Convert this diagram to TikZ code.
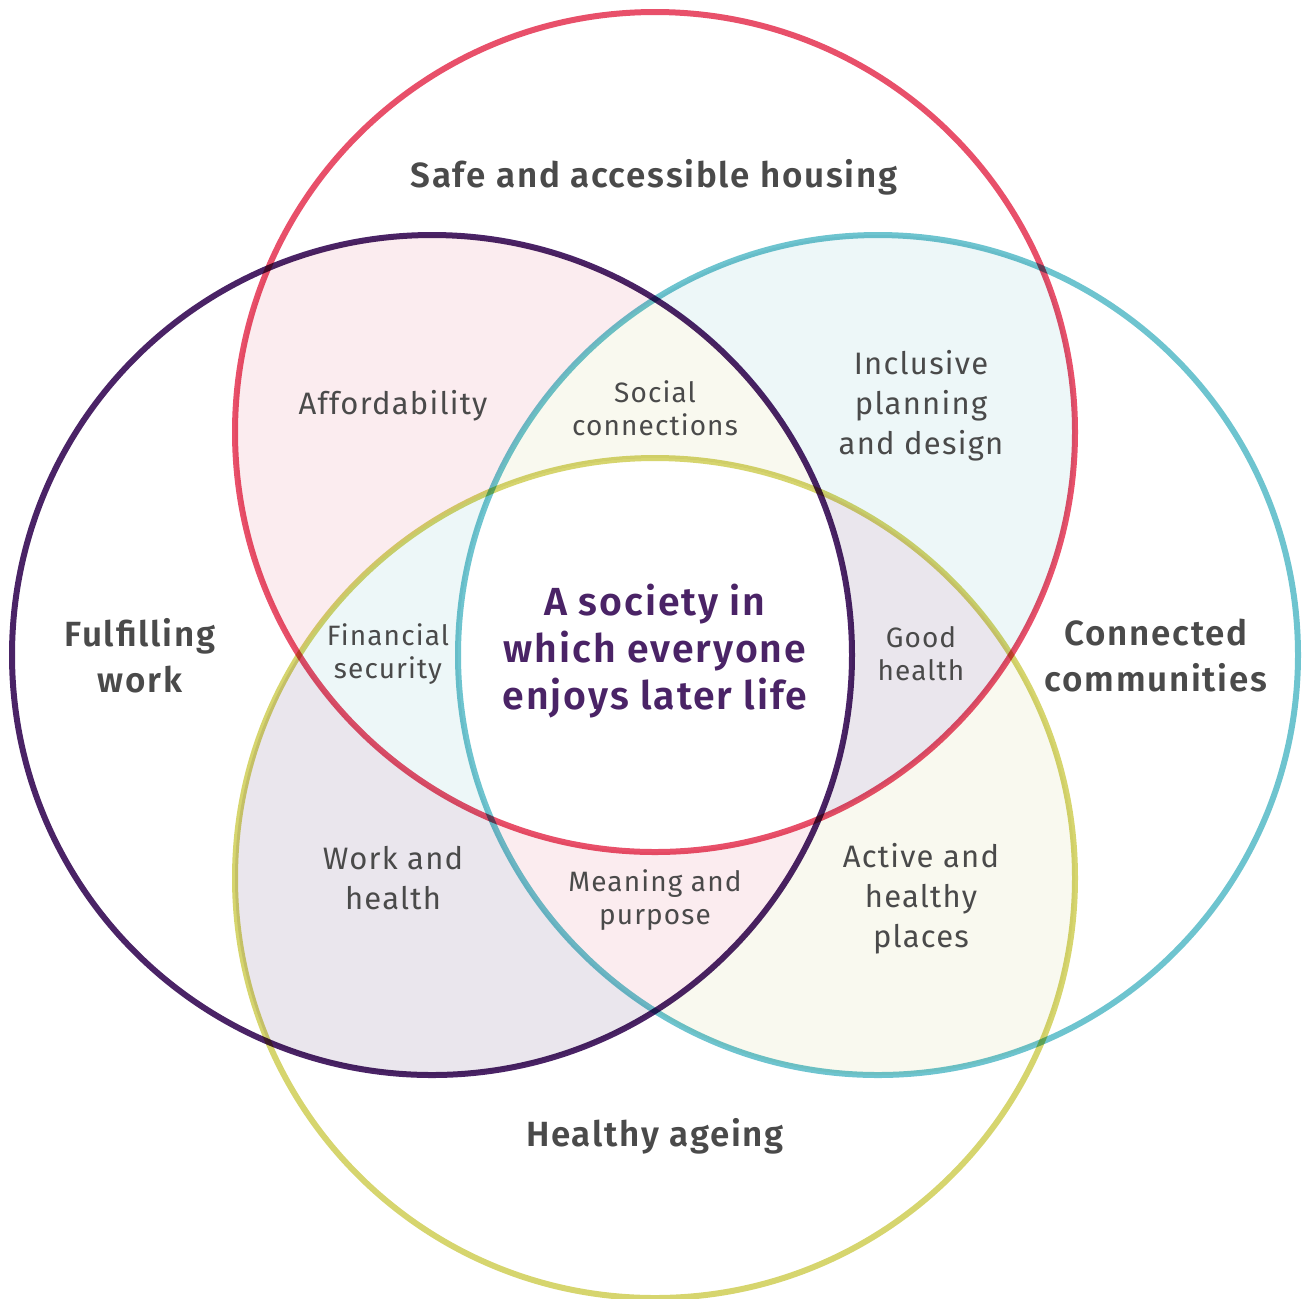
\documentclass[tikz,border=0pt]{standalone}
\usepackage{fontspec}
\setmainfont{Fira Sans}[LetterSpace=4, BoldFont={Fira Sans SemiBold}, BoldFeatures={LetterSpace=5}]
\definecolor{cred}{HTML}{E8506A}
\definecolor{cpur}{HTML}{4A2366}
\definecolor{ccya}{HTML}{6EC4CF}
\definecolor{cyel}{HTML}{D6D56E}
\definecolor{fpink}{HTML}{FBECEF}
\definecolor{fcya}{HTML}{EDF7F8}
\definecolor{fyel}{HTML}{F9F9EF}
\definecolor{fpur}{HTML}{EAE6ED}
\definecolor{tgray}{HTML}{4A4A4A}
\definecolor{tpur}{HTML}{4A2366}
\begin{document}
\begin{tikzpicture}[x=0.5pt,y=-0.5pt,
  ring/.style={line width=3pt},
  big/.style={text=tgray,align=center,font=\fontsize{17.5pt}{23pt}\selectfont\bfseries},
  mid/.style={text=tgray,align=center,font=\fontsize{15.5pt}{20pt}\selectfont},
  small/.style={text=tgray,align=center,font=\fontsize{14pt}{16.5pt}\selectfont},
  core/.style={text=tpur,align=center,font=\fontsize{19.6pt}{23.7pt}\selectfont\bfseries}]
\useasboundingbox (0,0) rectangle (1306,1298);
\def\R{420}
\def\cR{(655,432) circle[radius=\R]}
\def\cP{(432,655) circle[radius=\R]}
\def\cC{(878,655) circle[radius=\R]}
\def\cY{(655,878) circle[radius=\R]}
\def\all{(0,0) rectangle (1306,1298)}
% two-circle regions
\begin{scope}\clip \cR; \clip \cP; \fill[fpink] \all; \end{scope}
\begin{scope}\clip \cR; \clip \cC; \fill[fcya] \all; \end{scope}
\begin{scope}\clip \cP; \clip \cY; \fill[fpur] \all; \end{scope}
\begin{scope}\clip \cC; \clip \cY; \fill[fyel] \all; \end{scope}
% three-circle regions
\begin{scope}\clip \cR; \clip \cP; \clip \cC; \fill[fyel] \all; \end{scope}
\begin{scope}\clip \cR; \clip \cP; \clip \cY; \fill[fcya] \all; \end{scope}
\begin{scope}\clip \cR; \clip \cC; \clip \cY; \fill[fpur] \all; \end{scope}
\begin{scope}\clip \cP; \clip \cC; \clip \cY; \fill[fpink] \all; \end{scope}
% centre
\begin{scope}\clip \cR; \clip \cP; \clip \cC; \clip \cY; \fill[white] \all; \end{scope}
% rings
\begin{scope}[blend mode=multiply]
\draw[ring,cyel] \cY;
\draw[ring,ccya] \cC;
\draw[ring,cred] \cR;
\draw[ring,cpur] \cP;
\end{scope}
% labels
\node[big] (housing) at (654,177) {Safe and accessible housing};
\node[big] (work) at (140,656) {Fulfilling\\work};
\node[big] (communities) at (1156,656) {Connected\\communities};
\node[big] (ageing) at (655,1136) {Healthy ageing};
\node[mid] (afford) at (393,406) {Affordability};
\node[small] (social) at (655,408) {Social\\connections};
\node[mid] (inclusive) at (921,406) {Inclusive\\planning\\and design};
\node[small] (financial) at (388,654) {Financial\\security};
\node[small] (goodhealth) at (921,654) {Good\\health};
\node[mid] (workhealth) at (393,878) {Work and\\health};
\node[small] (meaning) at (655,900) {Meaning and\\purpose};
\node[mid] (active) at (921,899) {Active and\\healthy\\places};
\node[core] (society) at (655,651) {A society in\\which everyone\\enjoys later life};
\end{tikzpicture}
\end{document}
